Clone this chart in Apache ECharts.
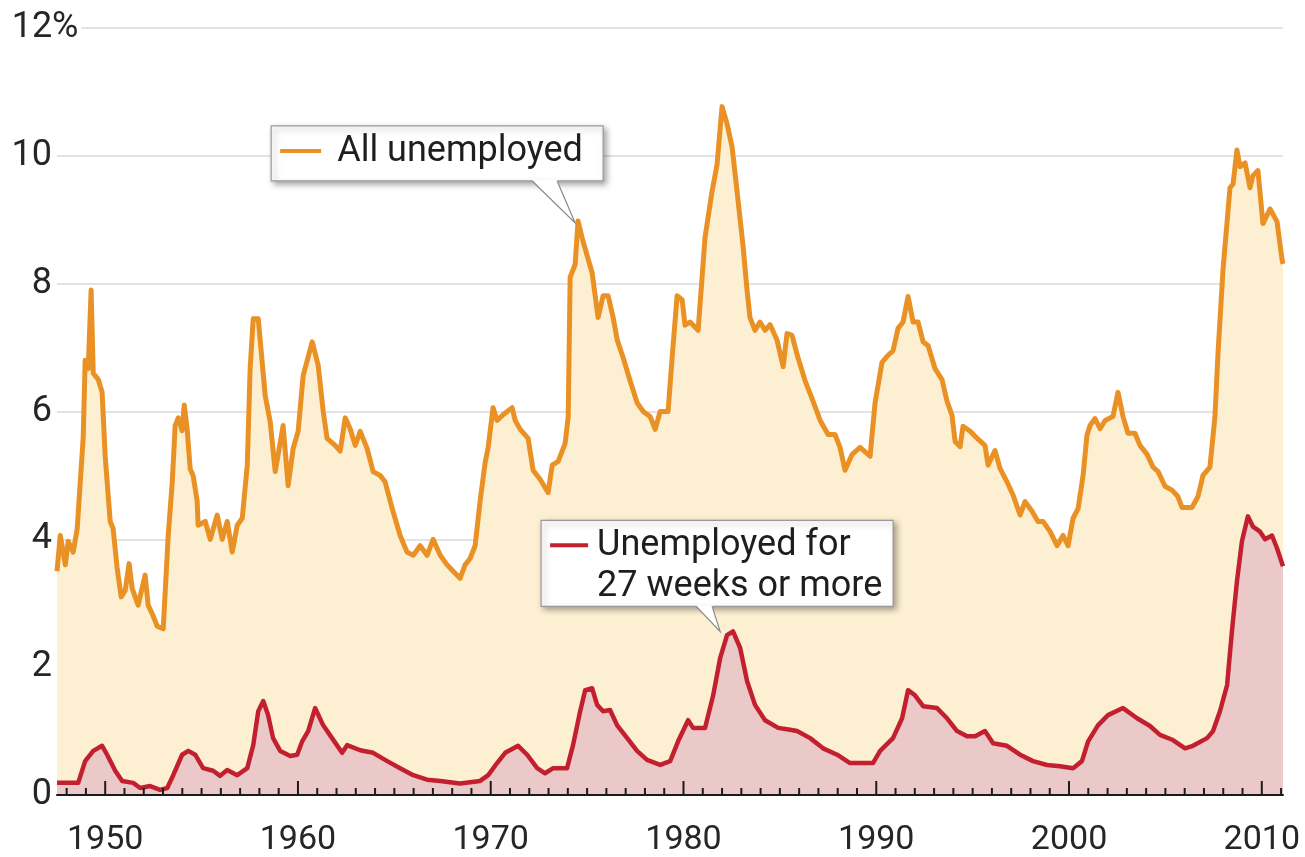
<!DOCTYPE html>
<html>
<head>
    <meta charset="utf-8">
    <title>Unemployment rate</title>
    <script src="https://cdn.jsdelivr.net/npm/echarts@6/dist/echarts.min.js"></script>
    <style>
        html, body { margin: 0; padding: 0; background: #fff; }
    </style>
</head>
<body>
    <div id="main" style="width: 1305px;height:857px;"></div>
    <script type="text/javascript">
        // all unemployed, % of labour force (x = position on the year axis)
        var allYears = [1947.5, 1947.67, 1947.93, 1948.08, 1948.34, 1948.55, 1948.86, 1948.96, 1949.12, 1949.27,
            1949.38, 1949.64, 1949.84, 1950.0, 1950.26, 1950.41, 1950.62, 1950.83, 1951.04, 1951.24,
            1951.4, 1951.71, 1952.07, 1952.23, 1952.49, 1952.7, 1953.01, 1953.27, 1953.48, 1953.63,
            1953.79, 1953.99, 1954.1, 1954.25, 1954.41, 1954.56, 1954.77, 1954.82, 1955.19, 1955.45,
            1955.81, 1956.07, 1956.33, 1956.59, 1956.85, 1957.11, 1957.37, 1957.52, 1957.68, 1957.94,
            1958.3, 1958.56, 1958.82, 1959.23, 1959.49, 1959.75, 1960.01, 1960.27, 1960.74, 1961.05,
            1961.31, 1961.51, 1961.93, 1962.19, 1962.45, 1962.71, 1962.97, 1963.23, 1963.59, 1963.9,
            1964.26, 1964.52, 1964.89, 1965.3, 1965.66, 1965.98, 1966.34, 1966.7, 1967.01, 1967.38,
            1967.74, 1968.05, 1968.41, 1968.67, 1968.93, 1969.19, 1969.45, 1969.71, 1969.87, 1970.12,
            1970.33, 1970.64, 1971.11, 1971.27, 1971.53, 1971.94, 1972.2, 1972.56, 1972.98, 1973.19,
            1973.5, 1973.86, 1974.02, 1974.12, 1974.38, 1974.53, 1974.79, 1975.26, 1975.57, 1975.83,
            1976.09, 1976.35, 1976.56, 1976.87, 1977.23, 1977.59, 1977.91, 1978.27, 1978.53, 1978.79,
            1979.2, 1979.41, 1979.67, 1979.93, 1980.08, 1980.34, 1980.76, 1981.12, 1981.48, 1981.74,
            1982.0, 1982.26, 1982.52, 1982.78, 1983.09, 1983.3, 1983.45, 1983.71, 1983.97, 1984.23,
            1984.49, 1984.85, 1985.17, 1985.37, 1985.63, 1985.94, 1986.31, 1986.67, 1987.09, 1987.5,
            1987.86, 1988.12, 1988.38, 1988.75, 1989.16, 1989.68, 1989.94, 1990.3, 1990.61, 1990.87,
            1991.13, 1991.39, 1991.65, 1991.91, 1992.17, 1992.43, 1992.69, 1993.05, 1993.41, 1993.67,
            1993.93, 1994.09, 1994.35, 1994.5, 1994.87, 1995.23, 1995.64, 1995.8, 1996.16, 1996.42,
            1996.78, 1997.1, 1997.46, 1997.72, 1998.08, 1998.39, 1998.65, 1999.02, 1999.38, 1999.69,
            1999.95, 2000.21, 2000.47, 2000.73, 2000.93, 2001.09, 2001.35, 2001.61, 2001.87, 2002.28,
            2002.54, 2002.8, 2003.06, 2003.42, 2003.68, 2004.05, 2004.36, 2004.62, 2004.98, 2005.34,
            2005.65, 2005.86, 2006.38, 2006.69, 2006.95, 2007.31, 2007.57, 2007.73, 2007.99, 2008.2,
            2008.35, 2008.51, 2008.71, 2008.87, 2009.13, 2009.39, 2009.54, 2009.8, 2010.06, 2010.43,
            2010.79, 2011.05, 2011.1];
        var allRate = [3.5, 4.06, 3.6, 3.97, 3.8, 4.17, 5.6, 6.8, 6.67, 7.9,
            6.6, 6.5, 6.3, 5.3, 4.28, 4.17, 3.55, 3.1, 3.2, 3.62,
            3.23, 2.97, 3.44, 2.97, 2.8, 2.64, 2.6, 4.06, 4.9, 5.78,
            5.9, 5.7, 6.1, 5.73, 5.1, 5.0, 4.6, 4.22, 4.28, 4.0,
            4.38, 4.0, 4.28, 3.8, 4.22, 4.33, 5.16, 6.67, 7.45, 7.45,
            6.25, 5.84, 5.06, 5.78, 4.84, 5.42, 5.69, 6.56, 7.09, 6.72,
            6.0, 5.58, 5.47, 5.38, 5.9, 5.73, 5.47, 5.69, 5.42, 5.06,
            5.0, 4.9, 4.48, 4.06, 3.8, 3.75, 3.9, 3.75, 4.0, 3.75,
            3.6, 3.5, 3.39, 3.6, 3.7, 3.9, 4.6, 5.2, 5.44, 6.06,
            5.86, 5.95, 6.06, 5.86, 5.72, 5.58, 5.08, 4.94, 4.73, 5.16,
            5.22, 5.5, 5.92, 8.1, 8.3, 8.98, 8.66, 8.17, 7.47, 7.81,
            7.81, 7.47, 7.12, 6.84, 6.48, 6.14, 6.0, 5.92, 5.72, 6.0,
            6.0, 6.84, 7.81, 7.75, 7.35, 7.4, 7.27, 8.73, 9.44, 9.86,
            10.77, 10.5, 10.14, 9.44, 8.59, 7.89, 7.47, 7.27, 7.4, 7.27,
            7.36, 7.12, 6.7, 7.22, 7.19, 6.84, 6.48, 6.2, 5.86, 5.64,
            5.64, 5.44, 5.08, 5.33, 5.44, 5.3, 6.14, 6.77, 6.88, 6.95,
            7.3, 7.4, 7.8, 7.4, 7.4, 7.09, 7.03, 6.67, 6.5, 6.16,
            5.94, 5.53, 5.45, 5.77, 5.69, 5.58, 5.47, 5.16, 5.39, 5.11,
            4.9, 4.69, 4.38, 4.59, 4.44, 4.28, 4.28, 4.12, 3.9, 4.06,
            3.9, 4.33, 4.48, 5.0, 5.63, 5.78, 5.89, 5.73, 5.86, 5.92,
            6.3, 5.92, 5.66, 5.66, 5.47, 5.33, 5.13, 5.06, 4.83, 4.77,
            4.67, 4.5, 4.5, 4.67, 5.0, 5.13, 5.92, 6.92, 8.23, 8.97,
            9.5, 9.56, 10.09, 9.83, 9.89, 9.5, 9.69, 9.77, 8.94, 9.17,
            8.97, 8.38, 8.31];

        // unemployed for 27 weeks or more, % of labour force
        var longYears = [1947.5, 1948.6, 1948.96, 1949.38, 1949.84, 1950.1, 1950.52, 1950.88, 1951.45, 1951.82,
            1952.33, 1952.85, 1953.22, 1953.53, 1953.99, 1954.31, 1954.67, 1955.08, 1955.6, 1955.96,
            1956.33, 1956.85, 1957.37, 1957.68, 1957.94, 1958.2, 1958.45, 1958.71, 1959.08, 1959.6,
            1959.96, 1960.22, 1960.53, 1960.89, 1961.31, 1961.77, 1962.29, 1962.55, 1963.23, 1963.9,
            1964.63, 1965.3, 1965.98, 1966.7, 1967.38, 1968.41, 1969.45, 1969.87, 1970.33, 1970.75,
            1971.42, 1971.89, 1972.41, 1972.82, 1973.24, 1973.96, 1974.27, 1974.64, 1974.9, 1975.26,
            1975.52, 1975.83, 1976.19, 1976.56, 1977.08, 1977.59, 1978.11, 1978.79, 1979.31, 1979.72,
            1980.24, 1980.5, 1981.12, 1981.54, 1981.9, 1982.26, 1982.57, 1982.94, 1983.3, 1983.71,
            1984.23, 1984.91, 1985.53, 1985.89, 1986.57, 1987.24, 1987.97, 1988.64, 1989.16, 1989.83,
            1990.2, 1990.87, 1991.34, 1991.65, 1992.01, 1992.43, 1993.15, 1993.67, 1994.19, 1994.71,
            1995.13, 1995.64, 1996.06, 1996.78, 1997.46, 1998.13, 1998.86, 1999.53, 2000.21, 2000.67,
            2000.99, 2001.5, 2002.02, 2002.8, 2003.53, 2004.2, 2004.72, 2005.39, 2006.02, 2006.43,
            2007.16, 2007.47, 2007.83, 2008.2, 2008.45, 2008.71, 2008.97, 2009.28, 2009.54, 2009.91,
            2010.17, 2010.53, 2010.79, 2011.1];
        var longRate = [0.19, 0.19, 0.53, 0.69, 0.77, 0.63, 0.38, 0.22, 0.19, 0.11,
            0.14, 0.08, 0.11, 0.31, 0.63, 0.69, 0.63, 0.42, 0.38, 0.3,
            0.39, 0.31, 0.42, 0.78, 1.31, 1.47, 1.25, 0.89, 0.69, 0.61,
            0.63, 0.84, 1.0, 1.36, 1.09, 0.89, 0.66, 0.78, 0.7, 0.66,
            0.53, 0.42, 0.31, 0.24, 0.22, 0.18, 0.22, 0.31, 0.5, 0.66,
            0.77, 0.63, 0.42, 0.34, 0.42, 0.42, 0.78, 1.31, 1.64, 1.67,
            1.41, 1.31, 1.33, 1.09, 0.89, 0.69, 0.55, 0.47, 0.53, 0.84,
            1.17, 1.05, 1.05, 1.56, 2.14, 2.5, 2.56, 2.3, 1.78, 1.41,
            1.17, 1.05, 1.02, 1.0, 0.89, 0.73, 0.63, 0.5, 0.5, 0.5,
            0.69, 0.89, 1.2, 1.64, 1.56, 1.39, 1.36, 1.2, 1.0, 0.92,
            0.92, 1.0, 0.81, 0.77, 0.63, 0.53, 0.47, 0.45, 0.42, 0.53,
            0.84, 1.09, 1.25, 1.36, 1.2, 1.08, 0.94, 0.86, 0.73, 0.77,
            0.89, 1.0, 1.31, 1.72, 2.56, 3.34, 3.97, 4.36, 4.2, 4.12,
            4.0, 4.06, 3.86, 3.58];

        var decadeLabels = [1950, 1960, 1970, 1980, 1990, 2000, 2010];
        // one small tick a year, a tall one at each decade
        var yearTicks = [];
        for (var y = 1948; y <= 2011; y++) yearTicks.push(y);

        // where the two callout pointers touch the lines
        var calloutAll = [1974.38, 8.95];
        var calloutLong = [1981.9, 2.56];

        var FONT = 'Roboto, "Noto Sans", sans-serif';
        var ORANGE = '#ea9125';
        var RED = '#c3202f';
        var tickColor = '#1b1b1b';

        var chartDom = document.getElementById('main');
        var myChart = echarts.init(chartDom, null, {renderer: 'canvas'});

        var option = {
            animation: false,
            backgroundColor: '#fff',
            grid: {left: 57, right: 22, top: 28, bottom: 60},
            xAxis: {
                type: 'value',
                min: 1947.5,
                max: 2011.1,
                axisLine: {show: true, lineStyle: {color: tickColor, width: 2}},
                axisTick: {show: false},
                axisLabel: {
                    customValues: decadeLabels, margin: 28, fontSize: 34, fontFamily: FONT, color: '#262626',
                    formatter: function (v) { return String(v); }
                },
                splitLine: {show: false},
                z: 5
            },
            yAxis: {
                type: 'value',
                min: 0,
                max: 12,
                interval: 2,
                axisLine: {show: false},
                axisTick: {show: false},
                splitLine: {show: true, lineStyle: {color: '#dadada', width: 1.5}},
                axisLabel: {
                    align: 'left',
                    margin: 45,
                    fontSize: 36,
                    fontFamily: FONT,
                    color: '#262626',
                    formatter: function (v) {
                        return v === 12 ? '{n|' + v + '}{p|%}' : '{n|' + v + '}';
                    },
                    rich: {
                        n: {width: 40, align: 'right', fontSize: 36, fontFamily: FONT, color: '#262626'},
                        p: {fontSize: 36, fontFamily: FONT, color: '#262626', backgroundColor: '#fff', padding: [0, 3, 0, 0]}
                    }
                }
            },
            series: [{
                name: 'All unemployed',
                type: 'line',
                data: allYears.map(function (x, i) { return [x, allRate[i]]; }),
                showSymbol: false,
                lineStyle: {color: ORANGE, width: 5, join: 'round'},
                itemStyle: {color: ORANGE},
                areaStyle: {color: '#fdefd1', opacity: 1},
                z: 2
            }, {
                name: 'Unemployed for 27 weeks or more',
                type: 'line',
                data: longYears.map(function (x, i) { return [x, longRate[i]]; }),
                showSymbol: false,
                lineStyle: {color: RED, width: 4.5, join: 'round'},
                itemStyle: {color: RED},
                areaStyle: {color: '#ecc9c9', opacity: 1},
                z: 3
            }]
        };
        myChart.setOption(option);

        function toPx(pt) {
            return myChart.convertToPixel({xAxisIndex: 0, yAxisIndex: 0}, pt);
        }

        // year ticks pointing up from the axis line
        var tickEls = yearTicks.map(function (yr) {
            var p = toPx([yr, 0]);
            var len = yr % 10 === 0 ? 14 : 7;
            return {
                type: 'line',
                shape: {x1: p[0], y1: p[1], x2: p[0], y2: p[1] - len},
                style: {stroke: tickColor, lineWidth: 2},
                z: 50
            };
        });

        // callout boxes with a pointer, placed relative to where the pointer touches the line
        function callout(tip, box, pointer, lineColor, lines) {
            var p = toPx(tip);
            var bx = p[0] + box.dx, by = p[1] + box.dy;
            var bottom = by + box.h;
            var els = [{
                type: 'rect',
                shape: {x: bx, y: by, width: box.w, height: box.h},
                style: {fill: '#fff', stroke: '#9a9a9a', lineWidth: 1.2,
                    shadowBlur: 6, shadowOffsetX: 3, shadowOffsetY: 3, shadowColor: 'rgba(0,0,0,0.35)'},
                z: 100
            }, {
                type: 'polygon',
                shape: {points: [[bx + pointer[0], bottom - 1], [bx + pointer[1], bottom - 1], [p[0], p[1]]]},
                style: {fill: '#fff'},
                z: 101
            }, {
                type: 'polyline',
                shape: {points: [[bx + pointer[0], bottom], [p[0], p[1]], [bx + pointer[1], bottom]]},
                style: {stroke: '#8a8a8a', lineWidth: 1.2, fill: null},
                z: 101
            }, {
                type: 'line',
                shape: {x1: bx + 9, y1: by + 25, x2: bx + box.sample, y2: by + 25},
                style: {stroke: lineColor, lineWidth: 4},
                z: 102
            }];
            lines.forEach(function (t, i) {
                els.push({
                    type: 'text',
                    x: bx + box.tx,
                    y: by + 26 + i * 41,
                    style: {text: t, fill: '#1e1e1e', fontSize: 36, fontFamily: FONT, verticalAlign: 'middle', align: 'left'},
                    z: 102
                });
            });
            return els;
        }

        var graphics = tickEls
            .concat(callout(calloutAll, {dx: -304, dy: -97, w: 332, h: 55, sample: 50, tx: 66}, [261, 286], ORANGE,
                ['All unemployed']))
            .concat(callout(calloutLong, {dx: -179, dy: -111, w: 352, h: 86, sample: 47, tx: 56}, [155, 171], RED,
                ['Unemployed for', '27 weeks or more']));

        myChart.setOption({graphic: graphics});
    </script>
</body>
</html>
